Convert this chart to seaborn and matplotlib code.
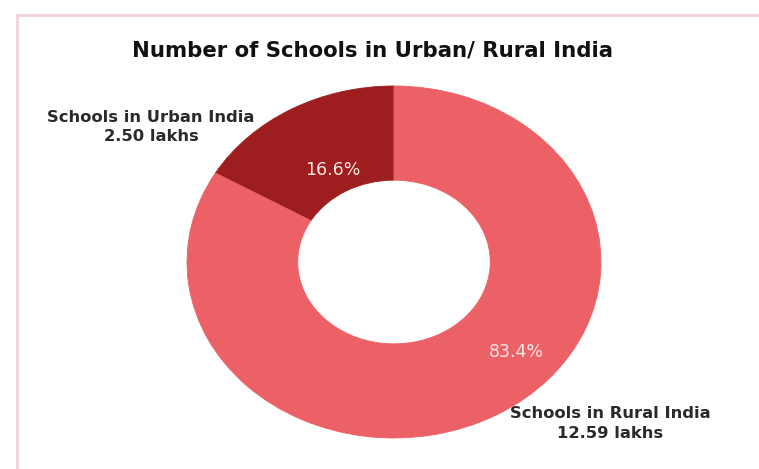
import matplotlib
matplotlib.use("Agg")
import matplotlib.pyplot as plt
import seaborn as sns
import numpy as np
from matplotlib.patches import Rectangle

# ---- data ----
categories = ["Schools in Urban India", "Schools in Rural India"]
values_lakhs = [2.50, 12.59]
colors = ["#9E1E1F", "#EB6166"]
title = "Number of Schools in Urban/ Rural India"

sns.set_theme(style="white")
plt.rcParams["font.family"] = ["DejaVu Sans"]

fig = plt.figure(figsize=(7.59, 4.69), dpi=100)
fig.patch.set_facecolor("white")

# pink frame (extends beyond right/bottom edge as in reference)
fig.patches.append(Rectangle((17 / 759, -0.1), 1.2, (469 - 15) / 469 + 0.1,
                             transform=fig.transFigure, fill=False,
                             edgecolor="#F0D3D7", linewidth=2.0, zorder=0))

ax = fig.add_axes([0, 0, 1, 1])
wedges, texts, autotexts = ax.pie(
    values_lakhs, colors=colors, startangle=90, counterclock=True,
    autopct="%1.1f%%", pctdistance=0.65,
    wedgeprops=dict(width=0.535, linewidth=0.6),
    textprops=dict(color="#FBE6E6", fontsize=12.5),
)
for w, c in zip(wedges, colors):
    w.set_edgecolor(c)
ax.set_aspect("auto")
ax.set_xlim(-394 / 207, (759 - 394) / 207)
ax.set_ylim(-207 / 176, 262 / 176)
ax.axis("off")

# percentage label placement within ring
pct_pos = [(-0.295, 0.523), (0.589, -0.511)]
for t, (x, y) in zip(autotexts, pct_pos):
    t.set_position((x, y))
    t.set_ha("center")
    t.set_va("center")

# outer category labels
label_pos = [(-1.174, 0.767), (1.043, -0.918)]
for cat, v, (x, y) in zip(categories, values_lakhs, label_pos):
    ax.text(x, y, f"{cat}\n{v:.2f} lakhs", ha="center", va="center",
            fontsize=11.8, fontweight="bold", color="#2a2a2a",
            linespacing=1.35)

fig.text(372 / 759, 1 - 56 / 469, title, ha="center", va="baseline",
         fontsize=15.3, fontweight="bold", color="#111111")

fig.savefig("out.png", dpi=100, facecolor="white")
